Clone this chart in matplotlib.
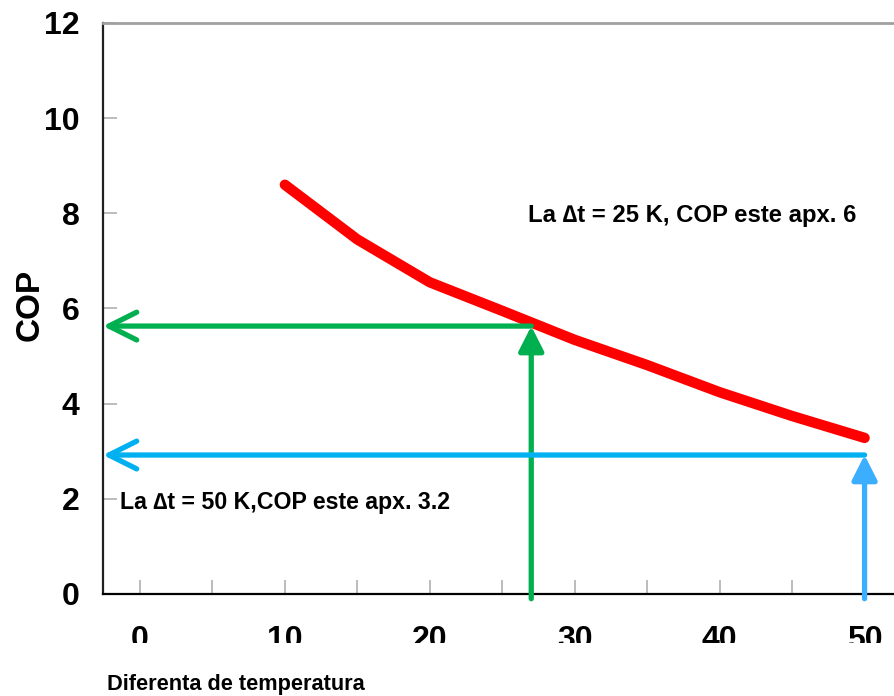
import matplotlib
matplotlib.use("Agg")
import matplotlib.pyplot as plt
from matplotlib.patches import Rectangle

# COP curve vs temperature difference
delta_t = [10, 15, 20, 25, 30, 35, 40, 45, 50]
cop = [8.6, 7.45, 6.55, 5.95, 5.34, 4.81, 4.24, 3.74, 3.28]

# reading arrows (delta t, cop)
green_dt, green_cop = 27, 5.63
blue_dt, blue_cop = 50, 2.92

x_ticks = list(range(0, 55, 5))
x_labels = ["0", "", "10", "", "20", "", "30", "", "40", "", "50"]
y_ticks = [0, 2, 4, 6, 8, 10, 12]

plt.rcParams["font.family"] = ["Liberation Sans", "DejaVu Sans"]
plt.rcParams["font.weight"] = "bold"

fig = plt.figure(figsize=(8.95, 6.96), dpi=100)
ax = fig.add_axes([0.1151, 0.1466, 0.8849, 0.8204])

ax.plot(delta_t, cop, color="#FF0000", lw=7.5, solid_capstyle="round", zorder=3)

xmin, xmax = -2.55, 52.1
ax.set_xlim(xmin, xmax)
ax.set_ylim(0, 12)

green = "#00B050"
blue = "#00B0F0"
blue2 = "#3BAEFF"

# green: vertical up to the curve, then horizontal to the axis
ax.annotate("", xy=(green_dt, green_cop), xytext=(green_dt, -0.1),
            arrowprops=dict(arrowstyle="-|>,head_length=0.75,head_width=0.38",
                            color=green, lw=3.8, shrinkA=0, shrinkB=0,
                            mutation_scale=20), zorder=4)
ax.annotate("", xy=(xmin, green_cop), xytext=(green_dt, green_cop),
            arrowprops=dict(arrowstyle="->,head_length=1.0,head_width=0.5",
                            color=green, lw=3.8, shrinkA=0, shrinkB=0,
                            mutation_scale=20, capstyle="round"), zorder=4)

# blue
ax.annotate("", xy=(blue_dt, blue_cop), xytext=(blue_dt, -0.1),
            arrowprops=dict(arrowstyle="-|>,head_length=0.75,head_width=0.38",
                            color=blue2, lw=3.8, shrinkA=0, shrinkB=0,
                            mutation_scale=20), zorder=4)
ax.annotate("", xy=(xmin, blue_cop), xytext=(blue_dt, blue_cop),
            arrowprops=dict(arrowstyle="->,head_length=1.0,head_width=0.5",
                            color=blue, lw=3.8, shrinkA=0, shrinkB=0,
                            mutation_scale=20, capstyle="round"), zorder=4)

ax.text(26.8, 7.95, "La \u2206t = 25 K, COP este apx. 6", fontsize=17.2,
        fontweight="bold", va="center", ha="left")
ax.text(-1.4, 1.93, "La \u2206t = 50 K,COP este apx. 3.2", fontsize=16.7,
        fontweight="bold", va="center", ha="left")

ax.set_xticks(x_ticks)
ax.set_xticklabels(x_labels)
ax.set_yticks(y_ticks)
ax.tick_params(axis="x", direction="in", length=10, width=1.2, color="#B0B0B0",
               labelsize=23, pad=22)
ax.tick_params(axis="y", direction="in", length=10, width=1.2, color="#B0B0B0",
               labelsize=23, pad=17)
for lab in ax.get_xticklabels() + ax.get_yticklabels():
    lab.set_fontweight("bold")

ax.spines["right"].set_visible(False)
ax.spines["top"].set_color("#A0A0A0")
ax.spines["top"].set_linewidth(2)
ax.spines["left"].set_color("#202020")
ax.spines["left"].set_linewidth(1.6)
ax.spines["bottom"].set_color("#000000")
ax.spines["bottom"].set_linewidth(1.6)

fig.text(0.034, 0.562, "COP", rotation=90, fontsize=24, fontweight="bold",
         va="center", ha="center")
fig.text(0.12, 0.002, "Diferenta de temperatura", fontsize=15.7, fontweight="bold",
         va="bottom", ha="left")

# the tick labels are cut off at the bottom in the original
fig.add_artist(Rectangle((0, 0.046), 1, 0.030, transform=fig.transFigure,
                         facecolor="white", edgecolor="none", zorder=10))

fig.savefig("out.png", dpi=100)
